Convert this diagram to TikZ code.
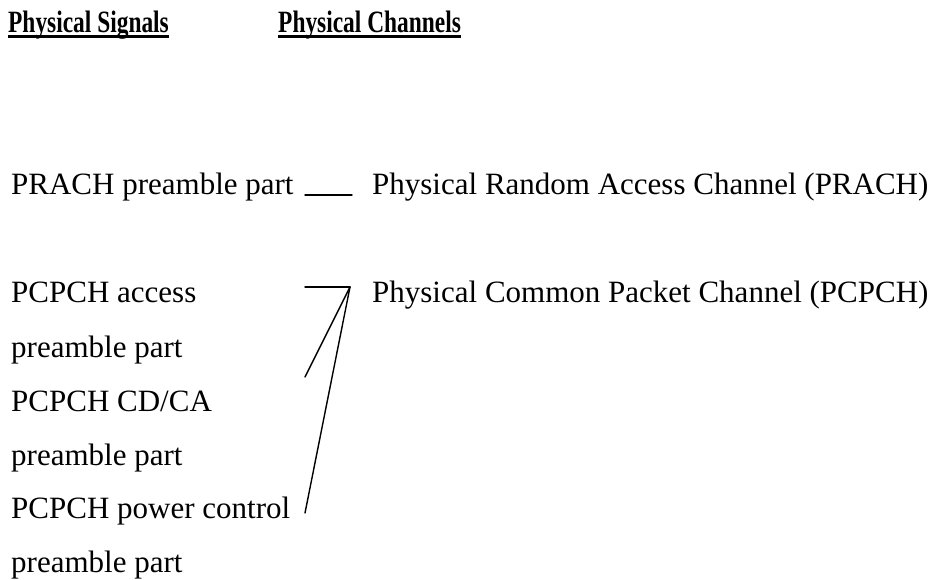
\documentclass[tikz,border=0pt]{standalone}
\usepackage{fontspec}
\usepackage{graphicx}
\setmainfont{Liberation Serif}
\usetikzlibrary{calc}
\begin{document}
\begin{tikzpicture}[x=1pt,y=-1pt,
  txt/.style={anchor=base west,inner sep=0pt,font=\fontsize{31}{37}\selectfont},
  hdr/.style={anchor=base west,inner sep=0pt,font=\fontsize{31}{37}\selectfont\bfseries},
  conn/.style={line width=1.4pt,line cap=round},
  uline/.style={line width=2.6pt}]
\useasboundingbox (0,0) rectangle (938,580);
% headers
\node[hdr] (h1) at (8,33) {\scalebox{0.755}[1]{Physical Signals}};
\node[hdr] (h2) at (278,33) {\scalebox{0.755}[1]{Physical Channels}};
\draw[uline] ($(h1.base west)+(0,3.6)$) -- ($(h1.base east)+(0,3.6)$);
\draw[uline] ($(h2.base west)+(0,3.6)$) -- ($(h2.base east)+(0,3.6)$);
% left column
\node[txt] (s1) at (11,195) {PRACH preamble part};
\node[txt] (s2) at (11,303) {PCPCH access};
\node[txt] (s2b) at (11,357) {preamble part};
\node[txt] (s3) at (11,411) {PCPCH CD/CA};
\node[txt] (s3b) at (11,465) {preamble part};
\node[txt] (s4) at (11,518) {PCPCH power control};
\node[txt] (s4b) at (11,572) {preamble part};
% right column
\node[txt] (c1) at (372,195) {Physical Random Access Channel (PRACH)};
\node[txt] (c2) at (372,303) {Physical Common Packet Channel (PCPCH)};
% connector end points
\coordinate (p1a) at (305,195);
\coordinate (p1b) at (352,195);
\coordinate (hub) at (350,287);
\coordinate (e1) at (305,287);
\coordinate (e2) at (305,377);
\coordinate (e3) at (305,513);
\draw[conn] (p1a) -- (p1b);
\draw[conn] (e1) -- (hub);
\draw[conn] (e2) -- (hub);
\draw[conn] (e3) -- (hub);
\end{tikzpicture}
\end{document}
